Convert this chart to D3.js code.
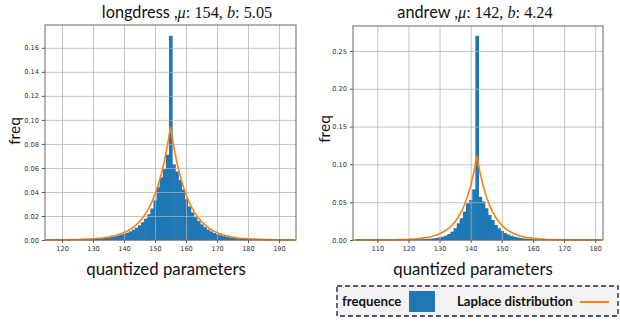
<!DOCTYPE html>
<html>
<head>
<meta charset="utf-8">
<script src="https://cdn.jsdelivr.net/npm/d3@7"></script>
<style>
  body { margin: 0; background: #fff; }
  svg { display: block; }
</style>
</head>
<body>
<div id="chart"></div>
<script>
// two histograms of quantized parameters with a fitted Laplace curve

//--------------------------------------------------
// Data
//--------------------------------------------------
// longdress: one bin per integer value, first bin centred on 115
const longdressFirstBin = 115;
const longdressFreq = [
  0.0001, 0.0001, 0.0001, 0.0001, 0.0001, 0.0001, 0.0002, 0.0002, 0.0002, 0.0003,
  0.0003, 0.0004, 0.0005, 0.0006, 0.0007, 0.0008, 0.0010, 0.0012, 0.0014, 0.0017,
  0.0020, 0.0024, 0.0029, 0.0035, 0.0042, 0.0050, 0.0060, 0.0072, 0.0086, 0.0103,
  0.0123, 0.0148, 0.0178, 0.0215, 0.0262, 0.0330, 0.0440, 0.0520, 0.0590, 0.0710,
  0.1700,
  0.0630, 0.0570, 0.0500, 0.0420, 0.0340, 0.0280, 0.0230, 0.0190, 0.0158, 0.0130,
  0.0107, 0.0088, 0.0072, 0.0059, 0.0048, 0.0040, 0.0033, 0.0027, 0.0022, 0.0018,
  0.0015, 0.0012, 0.0010, 0.0008, 0.0007, 0.0006, 0.0005, 0.0004, 0.0003, 0.0003,
  0.0002, 0.0002, 0.0002, 0.0001, 0.0001, 0.0001, 0.0001, 0.0001, 0.0001, 0.0001
];
const longdressLaplace = [
  0.0001, 0.0001, 0.0001, 0.0001, 0.0001, 0.0002, 0.0002, 0.0002, 0.0003, 0.0003,
  0.0004, 0.0005, 0.0006, 0.0007, 0.0008, 0.0010, 0.0012, 0.0014, 0.0017, 0.0021,
  0.0025, 0.0030, 0.0036, 0.0043, 0.0051, 0.0062, 0.0074, 0.0089, 0.0106, 0.0128,
  0.0153, 0.0184, 0.0220, 0.0264, 0.0317, 0.0380, 0.0455, 0.0546, 0.0654, 0.0784,
  0.0940,
  0.0784, 0.0654, 0.0546, 0.0455, 0.0380, 0.0317, 0.0264, 0.0220, 0.0184, 0.0153,
  0.0128, 0.0106, 0.0089, 0.0074, 0.0062, 0.0051, 0.0043, 0.0036, 0.0030, 0.0025,
  0.0021, 0.0017, 0.0014, 0.0012, 0.0010, 0.0008, 0.0007, 0.0006, 0.0005, 0.0004,
  0.0003, 0.0003, 0.0002, 0.0002, 0.0002, 0.0001, 0.0001, 0.0001, 0.0001, 0.0001
];
const longdressXTicks = [120, 130, 140, 150, 160, 170, 180, 190];
const longdressYTicks = [0, 0.02, 0.04, 0.06, 0.08, 0.10, 0.12, 0.14, 0.16];

// andrew: first bin centred on 103
const andrewFirstBin = 103;
const andrewFreq = [
  0.0001, 0.0001, 0.0001, 0.0001, 0.0001, 0.0001, 0.0001, 0.0001, 0.0001, 0.0001,
  0.0001, 0.0001, 0.0002, 0.0002, 0.0002, 0.0003, 0.0003, 0.0004, 0.0005, 0.0006,
  0.0007, 0.0009, 0.0011, 0.0014, 0.0017, 0.0021, 0.0027, 0.0034, 0.0044, 0.0058,
  0.0080, 0.0110, 0.0155, 0.0220, 0.0287, 0.0375, 0.0485, 0.0530, 0.0670,
  0.2700,
  0.0570, 0.0510, 0.0420, 0.0330, 0.0265, 0.0200, 0.0155, 0.0120, 0.0092, 0.0072,
  0.0056, 0.0044, 0.0034, 0.0027, 0.0021, 0.0017, 0.0013, 0.0010, 0.0008, 0.0006,
  0.0005, 0.0004, 0.0003, 0.0003, 0.0002, 0.0002, 0.0002, 0.0001, 0.0001, 0.0001,
  0.0001, 0.0001, 0.0001, 0.0001, 0.0001, 0.0001, 0.0001, 0.0001, 0.0001, 0.0001
];
const andrewLaplace = [
  0.0001, 0.0001, 0.0001, 0.0001, 0.0001, 0.0001, 0.0001, 0.0001, 0.0001, 0.0002,
  0.0002, 0.0002, 0.0003, 0.0004, 0.0005, 0.0006, 0.0007, 0.0009, 0.0012, 0.0014,
  0.0018, 0.0022, 0.0028, 0.0034, 0.0043, 0.0053, 0.0066, 0.0082, 0.0102, 0.0127,
  0.0157, 0.0195, 0.0243, 0.0301, 0.0375, 0.0465, 0.0578, 0.0718, 0.0895,
  0.1110,
  0.0895, 0.0718, 0.0578, 0.0465, 0.0375, 0.0301, 0.0243, 0.0195, 0.0157, 0.0127,
  0.0102, 0.0082, 0.0066, 0.0053, 0.0043, 0.0034, 0.0028, 0.0022, 0.0018, 0.0014,
  0.0012, 0.0009, 0.0007, 0.0006, 0.0005, 0.0004, 0.0003, 0.0002, 0.0002, 0.0002,
  0.0001, 0.0001, 0.0001, 0.0001, 0.0001, 0.0001, 0.0001, 0.0001, 0.0001, 0.0001
];
const andrewXTicks = [110, 120, 130, 140, 150, 160, 170, 180];
const andrewYTicks = [0, 0.05, 0.10, 0.15, 0.20, 0.25];

//--------------------------------------------------
// Setup
//--------------------------------------------------
const W = 620, H = 322;
const BLUE = "#1f77b4", ORANGE = "#ff7f0e";
const labelFont = "Lato, 'Open Sans', sans-serif";
const mathFont = "'Liberation Serif', 'DejaVu Serif', serif";
const tickFont = "'DejaVu Sans', sans-serif";

const svg = d3.select("#chart")
  .append("svg")
  .attr("width", W)
  .attr("height", H);

function drawPanel(p) {
  const x = d3.scaleLinear().domain(p.xDomain).range([p.left, p.right]);
  const y = d3.scaleLinear().domain(p.yDomain).range([p.bottom, p.top]);
  const g = svg.append("g");

  const bins = p.freq.map((v, i) => ({
    x0: p.firstBin + i - 0.5,
    x1: p.firstBin + i + 0.5,
    v
  }));
  const curve = p.laplace.map((v, i) => ({ x: p.firstBin + i, v }));

  // histogram (slight overlap so no hairline gaps)
  g.selectAll(".bar")
    .data(bins)
    .join("rect")
    .attr("class", "bar")
    .attr("x", d => x(d.x0))
    .attr("width", d => x(d.x1) - x(d.x0) + 0.6)
    .attr("y", d => y(d.v))
    .attr("height", d => y(0) - y(d.v))
    .attr("fill", BLUE);

  // grid sits above the bars, below the line
  g.append("g")
    .attr("transform", `translate(0,${p.bottom})`)
    .call(d3.axisBottom(x).tickValues(p.xTicks).tickSize(p.top - p.bottom).tickFormat(""))
    .call(a => a.select(".domain").remove())
    .call(a => a.selectAll("line").attr("stroke", "#b0b0b0").attr("stroke-opacity", 0.75));
  g.append("g")
    .attr("transform", `translate(${p.left},0)`)
    .call(d3.axisLeft(y).tickValues(p.yTicks).tickSize(p.left - p.right).tickFormat(""))
    .call(a => a.select(".domain").remove())
    .call(a => a.selectAll("line").attr("stroke", "#b0b0b0").attr("stroke-opacity", 0.75));

  // laplace curve
  g.append("path")
    .datum(curve)
    .attr("fill", "none")
    .attr("stroke", ORANGE)
    .attr("stroke-width", 1.6)
    .attr("stroke-linejoin", "round")
    .attr("d", d3.line().x(d => x(d.x)).y(d => y(d.v)));

  // axes with tick labels
  const xAxis = g.append("g")
    .attr("transform", `translate(0,${p.bottom})`)
    .call(d3.axisBottom(x).tickValues(p.xTicks).tickSize(3).tickPadding(3).tickFormat(d3.format("d")));
  const yAxis = g.append("g")
    .attr("transform", `translate(${p.left},0)`)
    .call(d3.axisLeft(y).tickValues(p.yTicks).tickSize(3).tickPadding(3).tickFormat(d3.format(p.yFormat)));
  [xAxis, yAxis].forEach(a => {
    a.select(".domain").remove();
    a.selectAll("line").attr("stroke", "#555");
    a.selectAll("text")
      .attr("font-family", tickFont)
      .attr("font-size", 6.6)
      .attr("fill", "#333");
  });

  // frame
  g.append("rect")
    .attr("x", p.left)
    .attr("y", p.top)
    .attr("width", p.right - p.left)
    .attr("height", p.bottom - p.top)
    .attr("fill", "none")
    .attr("stroke", "#666")
    .attr("stroke-width", 1);

  // title: name in sans, the math part in serif
  const t = g.append("text")
    .attr("x", p.titleX)
    .attr("y", 18)
    .attr("text-anchor", "middle")
    .attr("font-size", 16.3)
    .attr("fill", "#111");
  t.append("tspan").attr("font-family", labelFont).text(p.name + " ,");
  t.append("tspan").attr("font-family", mathFont).attr("font-style", "italic").text("μ");
  t.append("tspan").attr("font-family", mathFont).text(": " + p.mu + ", ");
  t.append("tspan").attr("font-family", mathFont).attr("font-style", "italic").text("b");
  t.append("tspan").attr("font-family", mathFont).text(": " + p.b);

  g.append("text")
    .attr("x", p.xLabelX)
    .attr("y", 275)
    .attr("text-anchor", "middle")
    .attr("font-family", labelFont)
    .attr("font-size", 16.8)
    .attr("fill", "#111")
    .text("quantized parameters");

  g.append("text")
    .attr("transform", `translate(${p.yLabelX},${p.yLabelY}) rotate(-90)`)
    .attr("text-anchor", "middle")
    .attr("font-family", labelFont)
    .attr("font-size", 15.5)
    .attr("fill", "#111")
    .text("freq");
}

drawPanel({
  name: "longdress", mu: 154, b: "5.05",
  firstBin: longdressFirstBin, freq: longdressFreq, laplace: longdressLaplace,
  xDomain: [114.5, 195.5], yDomain: [0, 0.179],
  xTicks: longdressXTicks, yTicks: longdressYTicks, yFormat: ".2f",
  left: 45, right: 296, top: 25, bottom: 240,
  titleX: 187, xLabelX: 166, yLabelX: 20, yLabelY: 131
});

drawPanel({
  name: "andrew", mu: 142, b: "4.24",
  firstBin: andrewFirstBin, freq: andrewFreq, laplace: andrewLaplace,
  xDomain: [102.2, 182.5], yDomain: [0, 0.283],
  xTicks: andrewXTicks, yTicks: andrewYTicks, yFormat: ".2f",
  left: 353, right: 603, top: 26, bottom: 240,
  titleX: 475, xLabelX: 473, yLabelX: 330, yLabelY: 129
});

//--------------------------------------------------
// Legend (dashed box, bottom right)
//--------------------------------------------------
const legend = svg.append("g");

legend.append("rect")
  .attr("x", 337)
  .attr("y", 286)
  .attr("width", 281)
  .attr("height", 30)
  .attr("fill", "#f3f3f3")
  .attr("stroke", "#1e2a48")
  .attr("stroke-width", 1.4)
  .attr("stroke-dasharray", "5,3");

legend.append("text")
  .attr("x", 342)
  .attr("y", 306)
  .attr("font-family", labelFont)
  .attr("font-weight", "bold")
  .attr("font-size", 13.2)
  .attr("fill", "#111")
  .text("frequence");

legend.append("rect")
  .attr("x", 409)
  .attr("y", 291)
  .attr("width", 26)
  .attr("height", 21)
  .attr("fill", BLUE);

legend.append("text")
  .attr("x", 457)
  .attr("y", 306)
  .attr("font-family", labelFont)
  .attr("font-weight", "bold")
  .attr("font-size", 13.2)
  .attr("fill", "#111")
  .text("Laplace distribution");

legend.append("line")
  .attr("x1", 580)
  .attr("x2", 609)
  .attr("y1", 302)
  .attr("y2", 302)
  .attr("stroke", ORANGE)
  .attr("stroke-width", 2);
</script>
</body>
</html>
